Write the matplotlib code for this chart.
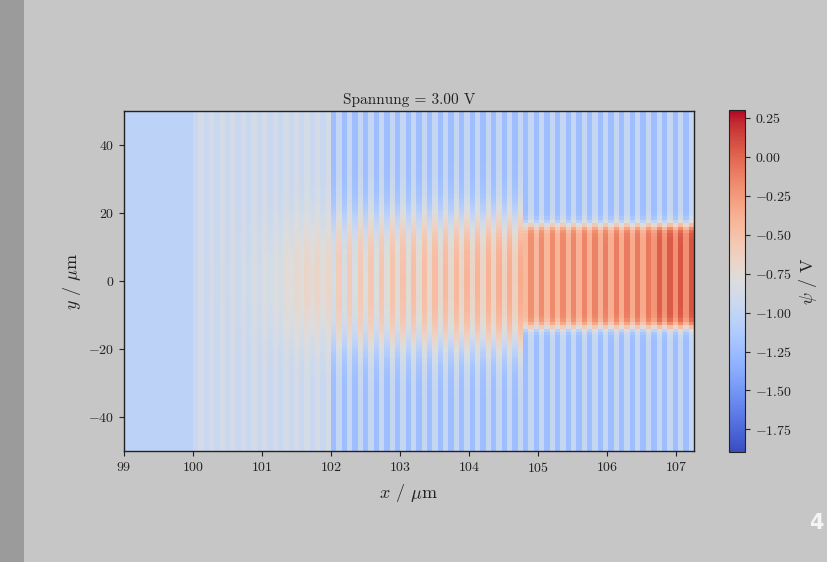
import numpy as np
import matplotlib
matplotlib.use("Agg")
import matplotlib.pyplot as plt
from matplotlib.patches import Rectangle
from matplotlib.ticker import FuncFormatter

plt.rcParams["font.family"] = "serif"
plt.rcParams["font.serif"] = ["cmr10"]
plt.rcParams["mathtext.fontset"] = "cm"
plt.rcParams["axes.formatter.use_mathtext"] = True

# --- Daten ----------------------------------------------------------------
# Abschnitte in x (µm): Substrat, schwach modulierte Zone, Schichtstapel
seg_bounds = [99.0, 100.0, 102.0, 107.26]
seg_periods = [0, 13, 34]          # Anzahl Doppelschichten je Abschnitt

substrate_value = -1.04            # homogener Bereich 99..100 µm

# Zone 100..102 µm: Mittelwert aussen / im Kanal je Periode, Modulation
zone_b_outer = -0.92
zone_b_inner = [-0.91, -0.91, -0.90, -0.90, -0.89, -0.88, -0.86,
                -0.83, -0.79, -0.74, -0.70, -0.67, -0.70]
zone_b_amp = 0.04

# Schichtstapel 102..107.26 µm
zone_c_outer = -1.11
zone_c_inner = [-0.72, -0.70, -0.69, -0.67, -0.66, -0.64, -0.63, -0.61,
                -0.60, -0.58, -0.57, -0.56, -0.54, -0.53, -0.52, -0.50,
                -0.49, -0.48,
                -0.32, -0.31, -0.30, -0.29, -0.28, -0.27, -0.26, -0.25,
                -0.24, -0.23, -0.22, -0.21,
                -0.10, -0.08, -0.07, -0.06]
zone_c_amp = 0.13

# Kanalgrenzen in y (oben, unten, Randbreite) je Zone
chan_b = (15.0, -15.0, 5.0)
chan_c_soft = (18.0, -18.0, 3.5)
chan_c_sharp = (16.5, -13.5, 0.8)
n_soft = 18                        # Perioden mit weichem Rand

v_min, v_max = -1.894, 0.299
cbar_ticks = [0.25, 0.0, -0.25, -0.5, -0.75, -1.0, -1.25, -1.5, -1.75]
x_ticks = [99, 100, 101, 102, 103, 104, 105, 106, 107]
y_ticks = [-40, -20, 0, 20, 40]
voltage = 3.00

# --- Gitter aufbauen -------------------------------------------------------
y_edges = np.arange(-50.0, 50.5, 1.0)
y_c = 0.5 * (y_edges[:-1] + y_edges[1:])


def window(top, bot, s):
    return 1.0 / (1.0 + np.exp((y_c - top) / s)) / (1.0 + np.exp((bot - y_c) / s))


cols = [np.full_like(y_c, substrate_value)]
x_edges = [seg_bounds[0], seg_bounds[1]]

xb = np.linspace(seg_bounds[1], seg_bounds[2], 2 * seg_periods[1] + 1)
wb = window(*chan_b)
for k, inner in enumerate(zone_b_inner):
    base = zone_b_outer + (inner - zone_b_outer) * wb
    cols += [base - zone_b_amp, base + zone_b_amp]
x_edges += list(xb[1:])

xc = np.linspace(seg_bounds[2], seg_bounds[3], 2 * seg_periods[2] + 1)
for k, inner in enumerate(zone_c_inner):
    w = window(*(chan_c_soft if k < n_soft else chan_c_sharp))
    base = zone_c_outer + (inner - zone_c_outer) * w
    cols += [base - zone_c_amp, base + zone_c_amp]
x_edges += list(xc[1:])

Z = np.column_stack(cols)
x_edges = np.array(x_edges)

# --- Zeichnen --------------------------------------------------------------
fig = plt.figure(figsize=(8.27, 5.62), dpi=100, facecolor="#c6c6c6")
fig.patches.append(Rectangle((0, 0), 24 / 827, 1, transform=fig.transFigure,
                             facecolor="#9b9b9b", edgecolor="none", zorder=0))

ax = fig.add_axes([0.150, 0.1975, 0.689, 0.605])
cax = fig.add_axes([0.8815, 0.196, 0.0195, 0.608])

mesh = ax.pcolormesh(x_edges, y_edges, Z, cmap="coolwarm", vmin=v_min, vmax=v_max,
                     shading="flat", edgecolors="none", antialiased=False)
ax.set_xlim(seg_bounds[0], seg_bounds[-1])
ax.set_ylim(-50, 50)
ax.set_xticks(x_ticks)
ax.set_yticks(y_ticks)
ax.set_xlabel(r"$x$ / $\mu$m", fontsize=13, color="#222222", labelpad=5)
ax.set_ylabel(r"$y$ / $\mu$m", fontsize=13, color="#222222", labelpad=4)
ax.set_title(f"Spannung = {voltage:.2f} V", fontsize=11, color="#222222", pad=5)
ax.tick_params(labelsize=10, colors="#222222", length=3.5, width=0.8)
for sp in ax.spines.values():
    sp.set_color("#222222")
    sp.set_linewidth(1.0)

cb = fig.colorbar(mesh, cax=cax)
cb.set_ticks(cbar_ticks)
cb.ax.yaxis.set_major_formatter(FuncFormatter(lambda v, p: f"${v:.2f}$".replace("-0.00", "0.00")))
cb.ax.tick_params(labelsize=10, colors="#222222", length=3.5, width=0.8)
cb.outline.set_edgecolor("#222222")
cb.set_label(r"$\psi$ / V", fontsize=13, color="#222222", labelpad=4)

fig.text(0.9955, 0.052, "4", color="#f4f4f4", fontsize=15, fontweight="bold",
         family="DejaVu Sans", ha="right", va="bottom")

fig.savefig("out.png", dpi=100, facecolor=fig.get_facecolor())
